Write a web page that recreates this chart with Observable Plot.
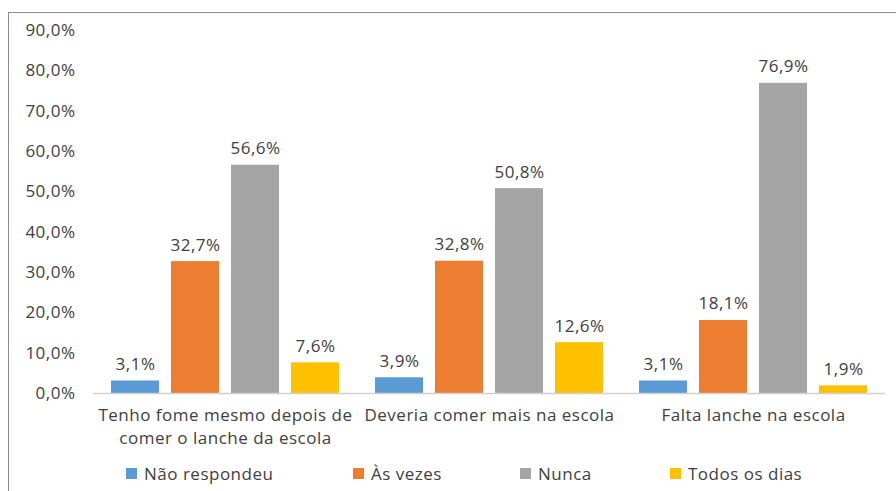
<!DOCTYPE html>
<html><head><meta charset="utf-8">
<script src="https://cdn.jsdelivr.net/npm/d3@7"></script>
<script src="https://cdn.jsdelivr.net/npm/@observablehq/plot@0.6"></script>
<style>
body{margin:0;background:#fff;width:896px;height:491px;overflow:hidden;position:relative;font-family:"Open Sans",sans-serif;}
#frame{position:absolute;left:8px;top:12px;width:900px;height:500px;border:1px solid #8c8c8c;box-sizing:border-box;}
#chart{position:absolute;left:0;top:0;}
#legend{position:absolute;left:0;top:461px;width:896px;height:24px;font-size:17px;letter-spacing:0.5px;color:#404040;}
#legend .item{position:absolute;top:0;display:flex;align-items:center;height:24px;white-space:nowrap;}
#legend .sw{width:11px;height:11px;margin-right:7px;}
</style></head>
<body>
<div id="frame"></div>
<div id="chart"></div>
<div id="legend"></div>
<script>
const groups = ["Tenho fome mesmo depois de\ncomer o lanche da escola", "Deveria comer mais na escola", "Falta lanche na escola"];
const series = ["Não respondeu", "Às vezes", "Nunca", "Todos os dias"];
const naoRespondeu = [3.1, 3.9, 3.1];
const asVezes = [32.7, 32.8, 18.1];
const nunca = [56.6, 50.8, 76.9];
const todosOsDias = [7.6, 12.6, 1.9];
const colors = ["#5B9BD5", "#ED7D31", "#A5A5A5", "#FFC000"];
const yTicks = [0, 10, 20, 30, 40, 50, 60, 70, 80, 90];

const seriesValues = [naoRespondeu, asVezes, nunca, todosOsDias];
const data = [];
groups.forEach((g, gi) => series.forEach((s, si) => data.push({group: g, series: s, value: seriesValues[si][gi]})));

const pct = v => d3.format(".1f")(v).replace(".", ",") + "%";

const chart = Plot.plot({
  width: 896, height: 450,
  marginLeft: 93, marginRight: 11, marginTop: 30, marginBottom: 57,
  style: {fontFamily: "Open Sans, sans-serif", fontSize: "17px", letterSpacing: "0.5px", color: "#404040", background: "transparent"},
  fx: {domain: groups, padding: 0, axis: null},
  x: {domain: series, padding: 0.2, paddingOuter: 0.3, axis: null},
  y: {domain: [0, 90], axis: null},
  color: {domain: series, range: colors},
  marks: [
    Plot.axisY({ticks: yTicks, tickSize: 0, tickPadding: 18, tickFormat: pct, fontSize: 17, fill: "#404040", label: null}),
    Plot.barY(data, {fx: "group", x: "series", y: "value", fill: "series"}),
    Plot.ruleY([0], {stroke: "#d0d0d0", strokeWidth: 1.5}),
    Plot.text(data, {fx: "group", x: "series", y: "value", text: d => pct(d.value), dy: -11, lineAnchor: "bottom", fill: "#404040", fontSize: 17}),
    Plot.axisFx({anchor: "bottom", tickSize: 0, tickPadding: 11, lineHeight: 1.36, fontSize: 17, fill: "#404040", label: null})
  ]
});
document.getElementById("chart").appendChild(chart);

const legendX = [126, 353, 520, 670];
const legend = document.getElementById("legend");
series.forEach((s, i) => {
  const item = document.createElement("div");
  item.className = "item";
  item.style.left = legendX[i] + "px";
  const sw = document.createElement("span");
  sw.className = "sw";
  sw.style.background = colors[i];
  const t = document.createElement("span");
  t.textContent = s;
  item.appendChild(sw); item.appendChild(t);
  legend.appendChild(item);
});
</script>
</body></html>
